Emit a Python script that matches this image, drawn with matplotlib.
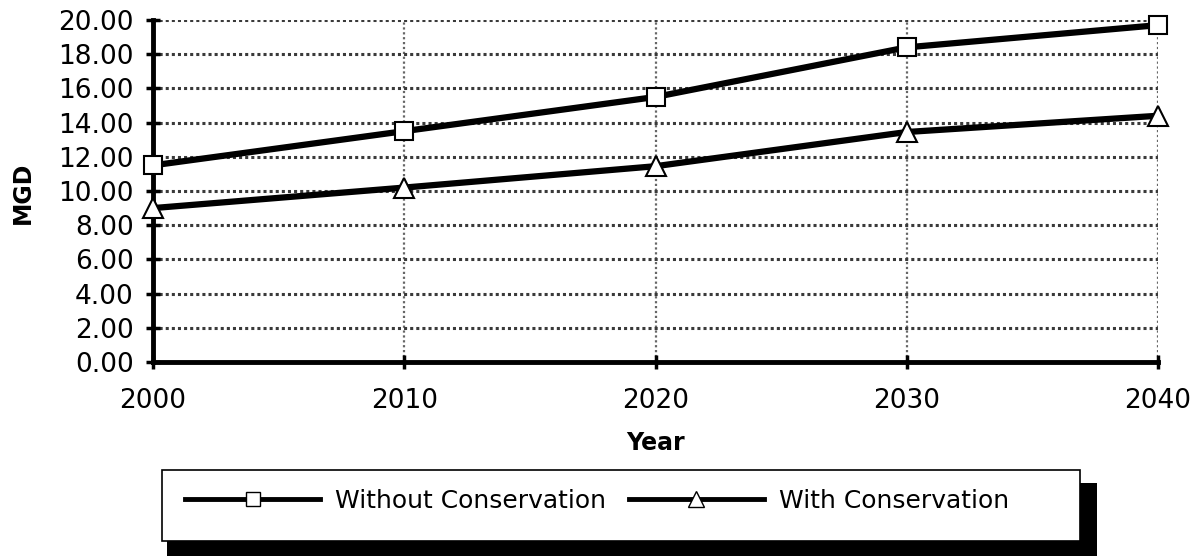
import matplotlib
matplotlib.use("Agg")
from matplotlib import pyplot
from matplotlib.patches import Rectangle
from matplotlib.lines import Line2D

years = [2000, 2010, 2020, 2030, 2040]
without_cons = [11.5, 13.5, 15.5, 18.4, 19.7]
with_cons = [9.0, 10.2, 11.45, 13.45, 14.4]
y_ticks = [0, 2, 4, 6, 8, 10, 12, 14, 16, 18, 20]

pyplot.rcParams['font.family'] = ['DejaVu Sans']

W, H = 1203, 556
fig = pyplot.figure(figsize=(W / 100, H / 100), dpi=100)
ax = fig.add_axes([153 / W, 1 - 362 / H, (1158 - 153) / W, (362 - 20) / H])

ax.set_xlim(2000, 2040)
ax.set_ylim(0, 20)
ax.set_xticks(years)
ax.set_yticks(y_ticks)
ax.set_yticklabels(["%.2f" % v for v in y_ticks])

# сетка: горизонтальная тёмная, вертикальная светлее
ax.yaxis.grid(True, color='#3a3a3a', linestyle=(0, (1, 1)), linewidth=2.2)
ax.xaxis.grid(True, color='#666666', linestyle=(0, (1, 1.2)), linewidth=1.6)
ax.set_axisbelow(True)

for s in ['top', 'right']:
    ax.spines[s].set_visible(False)
ax.spines['left'].set_linewidth(3.5)
ax.spines['bottom'].set_linewidth(3.5)
ax.tick_params(axis='both', direction='inout', length=10, width=2.5, labelsize=19)
ax.tick_params(axis='y', pad=9)
ax.tick_params(axis='x', pad=14)

ax.plot(years, without_cons, color='black', linewidth=4.5, marker='s', markersize=13,
        markerfacecolor='white', markeredgecolor='black', markeredgewidth=1.5, clip_on=False, zorder=5)
ax.plot(years, with_cons, color='black', linewidth=4.5, marker='^', markersize=15,
        markerfacecolor='white', markeredgecolor='black', markeredgewidth=1.5, clip_on=False, zorder=5)

fig.text(23 / W, 1 - 193 / H, "MGD", rotation=90, fontsize=17, fontweight='bold', ha='center', va='center')
fig.text(655 / W, 1 - 443 / H, "Year", fontsize=17, fontweight='bold', ha='center', va='center')

# рамка легенды с тенью
fig.patches.append(Rectangle((167 / W, 1 - 562 / H), (1097 - 167) / W, (562 - 483) / H,
                             transform=fig.transFigure, facecolor='black', edgecolor='none', zorder=1))
fig.patches.append(Rectangle((162 / W, 1 - 541 / H), (1080 - 162) / W, (541 - 470) / H,
                             transform=fig.transFigure, facecolor='white', edgecolor='black',
                             linewidth=1.2, zorder=2))
handles = [Line2D([], [], color='black', linewidth=3.5, marker='s', markersize=10,
                  markerfacecolor='white', markeredgecolor='black'),
           Line2D([], [], color='black', linewidth=3.5, marker='^', markersize=11,
                  markerfacecolor='white', markeredgecolor='black')]
fig.legend(handles, ['Without Conservation', 'With Conservation'], loc='center',
           bbox_to_anchor=(597 / W, 1 - 501 / H), ncol=2, frameon=False,
           fontsize=18, handlelength=5.4, columnspacing=0.9, handletextpad=0.6,
           borderpad=0, borderaxespad=0)

fig.savefig('out.png')
